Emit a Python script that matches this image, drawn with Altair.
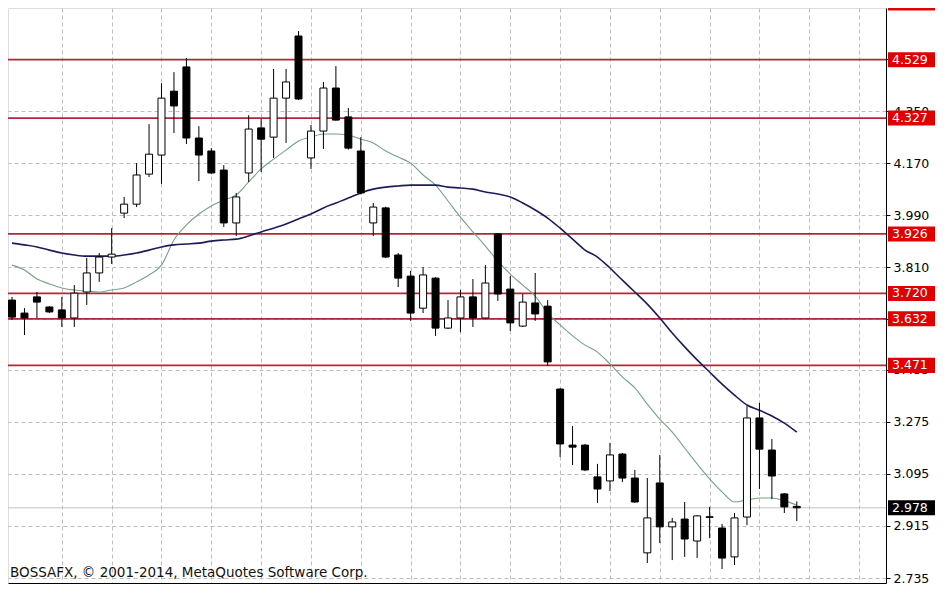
import altair as alt
import pandas as pd

# ---------------- data ----------------
opens = [3.697, 3.652, 3.708, 3.673, 3.663, 3.635, 3.725, 3.791, 3.846, 3.998,
         4.029, 4.133, 4.199, 4.420, 4.504, 4.258, 4.213, 4.147, 3.964, 4.137,
         4.293, 4.261, 4.396, 4.611, 4.189, 4.282, 4.431, 4.331, 4.213, 3.964,
         4.016, 3.853, 3.780, 3.669, 3.773, 3.600, 3.635, 3.708, 3.635, 3.926,
         3.735, 3.607, 3.687, 3.676, 3.389, 3.195, 3.195, 3.085, 3.071, 3.164,
         3.081, 2.822, 3.064, 2.912, 2.939, 2.863, 2.947, 2.908, 2.808, 2.946,
         3.289, 3.178, 3.026, 2.983]
highs = [3.708, 3.669, 3.725, 3.676, 3.708, 3.749, 3.843, 3.860, 3.946, 4.054,
         4.171, 4.306, 4.448, 4.486, 4.535, 4.299, 4.223, 4.164, 4.068, 4.337,
         4.324, 4.497, 4.497, 4.628, 4.303, 4.452, 4.507, 4.362, 4.261, 4.033,
         4.020, 3.860, 3.798, 3.811, 3.776, 3.697, 3.732, 3.770, 3.818, 3.928,
         3.780, 3.718, 3.791, 3.697, 3.392, 3.261, 3.199, 3.130, 3.202, 3.168,
         3.109, 3.081, 3.161, 2.943, 2.998, 2.953, 2.981, 2.922, 2.960, 3.330,
         3.341, 3.216, 3.029, 3.000]
lows = [3.628, 3.576, 3.635, 3.652, 3.604, 3.604, 3.680, 3.760, 3.822, 3.981,
        4.019, 4.123, 4.099, 4.275, 4.237, 4.109, 4.133, 3.950, 3.919, 4.106,
        4.140, 4.189, 4.241, 4.389, 4.151, 4.220, 4.318, 4.218, 4.063, 3.919,
        3.843, 3.742, 3.625, 3.652, 3.573, 3.597, 3.586, 3.604, 3.632, 3.694,
        3.590, 3.604, 3.625, 3.469, 3.154, 3.126, 3.105, 2.995, 3.036, 3.067,
        2.995, 2.787, 2.856, 2.797, 2.808, 2.804, 2.873, 2.766, 2.780, 2.918,
        3.043, 3.008, 2.960, 2.932]
closes = [3.638, 3.635, 3.690, 3.656, 3.635, 3.721, 3.791, 3.846, 3.856, 4.029,
          4.130, 4.202, 4.396, 4.369, 4.258, 4.199, 4.137, 3.964, 4.054, 4.289,
          4.254, 4.396, 4.452, 4.393, 4.282, 4.431, 4.320, 4.223, 4.068, 4.019,
          3.846, 3.773, 3.652, 3.784, 3.600, 3.635, 3.708, 3.635, 3.756, 3.718,
          3.618, 3.690, 3.649, 3.483, 3.199, 3.188, 3.109, 3.043, 3.161, 3.081,
          2.998, 2.943, 2.912, 2.929, 2.870, 2.950, 2.945, 2.804, 2.943, 3.289,
          3.181, 3.088, 2.981, 2.978]
ma_fast = [3.818, 3.801, 3.770, 3.753, 3.739, 3.732, 3.728, 3.725, 3.732, 3.739,
           3.760, 3.784, 3.818, 3.905, 3.957, 3.995, 4.023, 4.043, 4.061, 4.106,
           4.151, 4.185, 4.216, 4.248, 4.261, 4.272, 4.272, 4.268, 4.254, 4.241,
           4.213, 4.192, 4.171, 4.130, 4.095, 4.040, 3.984, 3.933, 3.884, 3.832,
           3.787, 3.749, 3.711, 3.652, 3.611, 3.573, 3.541, 3.517, 3.476, 3.431,
           3.393, 3.337, 3.285, 3.240, 3.185, 3.130, 3.078, 3.033, 2.998, 3.005,
           3.012, 3.012, 3.002, 2.988]
ma_slow = [3.894, 3.888, 3.881, 3.870, 3.860, 3.853, 3.849, 3.849, 3.849, 3.853,
           3.860, 3.870, 3.881, 3.888, 3.891, 3.894, 3.901, 3.905, 3.908, 3.919,
           3.933, 3.946, 3.960, 3.978, 3.995, 4.016, 4.033, 4.050, 4.068, 4.081,
           4.088, 4.092, 4.095, 4.095, 4.095, 4.088, 4.085, 4.081, 4.071, 4.064,
           4.054, 4.033, 4.009, 3.981, 3.946, 3.908, 3.870, 3.846, 3.808, 3.766,
           3.725, 3.683, 3.635, 3.583, 3.535, 3.490, 3.448, 3.406, 3.368, 3.334,
           3.316, 3.296, 3.271, 3.240]
levels = [4.725, 4.529, 4.327, 3.926, 3.720, 3.632, 3.471]
level_labels = ["4.725", "4.529", "4.327", "3.926", "3.720", "3.632", "3.471"]
axis_ticks = [2.735, 2.915, 3.095, 3.275, 3.455, 3.630, 3.810, 3.990, 4.170, 4.350, 4.530, 4.710]
last_price = 2.978
last_label = "2.978"
grid_x = list(range(4, 69, 4))
copyright_text = "BOSSAFX, © 2001-2014, MetaQuotes Software Corp."

# ---------------- tables ----------------
n = len(opens)
candles = pd.DataFrame({"i": list(range(n)), "o": opens, "h": highs, "l": lows, "c": closes})
candles["dir"] = ["up" if c >= o else "down" for o, c in zip(opens, closes)]
ma = pd.DataFrame({"i": list(range(n)) * 2,
                   "v": ma_fast + ma_slow,
                   "s": ["fast"] * n + ["slow"] * n})
lv = pd.DataFrame({"v": levels, "t": level_labels})
lp = pd.DataFrame({"v": [last_price], "t": [last_label]})

W, H = 878, 575
FONT = "DejaVu Sans"
LBL = 12.5
xs = alt.Scale(domain=[0.079, 69.76], nice=False, zero=False)
ys = alt.Scale(domain=[2.7177, 4.708], nice=False, zero=False)

x_axis = alt.Axis(values=grid_x, labels=False, ticks=False, grid=True,
                  gridColor="#bdbdbd", gridDash=[4, 3], gridWidth=1,
                  domain=True, domainColor="black", domainWidth=1, title=None)
y_axis = alt.Axis(orient="right", values=axis_ticks, format=".3f", grid=True,
                  gridColor="#bdbdbd", gridDash=[4, 3], gridWidth=1,
                  domain=True, domainColor="black", domainWidth=1,
                  ticks=True, tickColor="black", tickSize=4,
                  labels=True, labelColor="black", labelFont=FONT, labelFontSize=LBL,
                  labelPadding=3, title=None)


def X(field="i:Q"):
    return alt.X(field, scale=xs, axis=x_axis, title=None)


def Y(field):
    return alt.Y(field, scale=ys, axis=y_axis, title=None)


base = alt.Chart(candles)

wicks = base.mark_rule(color="black", strokeWidth=1).encode(
    x=X(), y=Y("l:Q"), y2="h:Q",
)

bodies = base.mark_bar(size=7, stroke="black", strokeWidth=1).encode(
    x=X(), y=Y("o:Q"), y2="c:Q",
    fill=alt.Fill("dir:N", scale=alt.Scale(domain=["up", "down"], range=["white", "black"]),
                  legend=None),
)

lines = alt.Chart(ma).mark_line(interpolate="monotone").encode(
    x=X(), y=Y("v:Q"),
    color=alt.Color("s:N", scale=alt.Scale(domain=["fast", "slow"], range=["#74a285", "#1c1c5a"]),
                    legend=None),
    strokeWidth=alt.StrokeWidth("s:N", scale=alt.Scale(domain=["fast", "slow"], range=[1.1, 1.6]),
                                legend=None),
)

level_lines = alt.Chart(lv).mark_rule(color="#b3263a", strokeWidth=1.8).encode(
    y=Y("v:Q"), x=alt.value(0), x2=alt.value(W),
)

bid_line = alt.Chart(lp).mark_rule(color="#c4c4c4", strokeWidth=1).encode(
    y=Y("v:Q"), x=alt.value(0), x2=alt.value(W),
)

level_boxes = alt.Chart(lv).transform_calculate(
    lo="datum.v - 0.026", hi="datum.v + 0.026"
).mark_rect(color="#e10000").encode(
    y=Y("lo:Q"), y2="hi:Q",
    x=alt.value(W + 2), x2=alt.value(W + 49),
)
level_text = alt.Chart(lv).mark_text(color="white", align="left", baseline="middle",
                                      font=FONT, fontSize=LBL).encode(
    y=Y("v:Q"), x=alt.value(W + 6), text="t:N",
)

last_box = alt.Chart(lp).transform_calculate(
    lo="datum.v - 0.026", hi="datum.v + 0.026"
).mark_rect(color="black").encode(
    y=Y("lo:Q"), y2="hi:Q",
    x=alt.value(W + 2), x2=alt.value(W + 49),
)
last_text = alt.Chart(lp).mark_text(color="white", align="left", baseline="middle",
                                     font=FONT, fontSize=LBL).encode(
    y=Y("v:Q"), x=alt.value(W + 6), text="t:N",
)

credit = alt.Chart(pd.DataFrame({"t": [copyright_text]})).mark_text(
    align="left", baseline="alphabetic", font=FONT, fontSize=13.5, color="#111111"
).encode(x=alt.value(2), y=alt.value(569), text="t:N")

chart = alt.layer(
    level_lines, bid_line, lines, wicks, bodies,
    level_boxes, level_text, last_box, last_text, credit,
).properties(
    width=W, height=H,
    autosize=alt.AutoSizeParams(type="none"),
    padding={"left": 0, "top": 0, "right": 52, "bottom": 2},
).configure_view(stroke=None).configure(background="white")

chart.save("out.html", embed_options={"renderer": "svg", "actions": False})
